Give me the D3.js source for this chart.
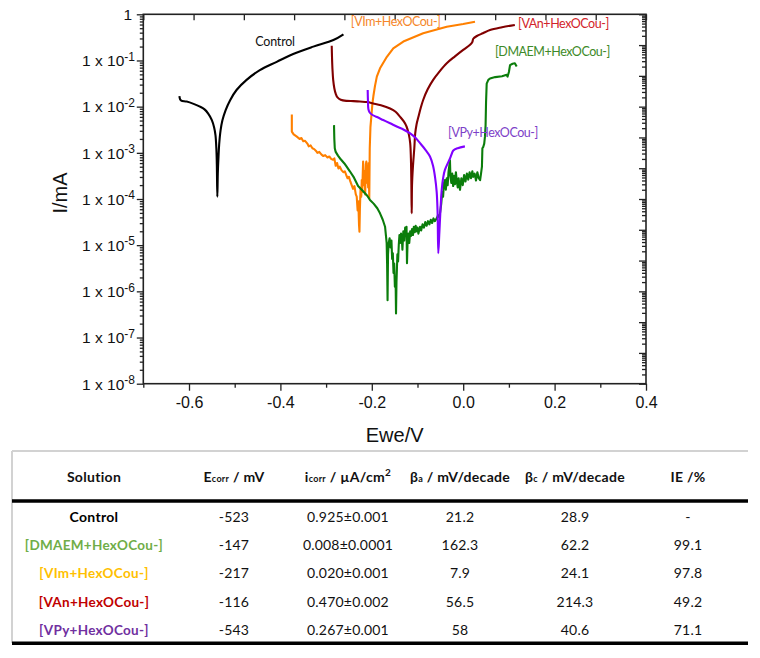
<!DOCTYPE html>
<html><head><meta charset="utf-8">
<script src="https://cdn.jsdelivr.net/npm/d3@7"></script>
<style>
html,body{margin:0;padding:0;background:#fff;}
svg{display:block;}
</style></head>
<body>
<svg id="c" width="760" height="658"></svg>
<script>
// ---------- DATA (E in V, log10 of I in mA) ----------
const controlData = [[-0.621,-1.77],[-0.6195,-1.84],[-0.617,-1.87],[-0.605,-1.89],[-0.590,-1.94],[-0.576,-2.0],[-0.566,-2.06],[-0.558,-2.15],[-0.550,-2.29],[-0.545,-2.45],[-0.542,-2.62],[-0.540,-2.94],[-0.539,-3.30],[-0.538,-3.95],[-0.537,-3.45],[-0.5355,-3.10],[-0.534,-2.82],[-0.531,-2.52],[-0.527,-2.30],[-0.520,-2.08],[-0.510,-1.86],[-0.496,-1.64],[-0.474,-1.42],[-0.445,-1.21],[-0.408,-1.03],[-0.372,-0.86],[-0.328,-0.70],[-0.284,-0.557],[-0.262,-0.433]];
const vimData = [[-0.375,-2.17],[-0.375,-2.54],[-0.371,-2.60],[-0.364,-2.65],[-0.358,-2.70],[-0.354,-2.68],[-0.350,-2.75],[-0.346,-2.74],[-0.341,-2.80],[-0.338,-2.86],[-0.334,-2.84],[-0.330,-2.90],[-0.326,-2.92],[-0.322,-2.96],[-0.319,-3.00],[-0.315,-2.98],[-0.310,-3.04],[-0.306,-3.07],[-0.302,-3.05],[-0.297,-3.10],[-0.293,-3.08],[-0.289,-3.13],[-0.285,-3.15],[-0.282,-3.12],[-0.279,-3.28],[-0.276,-3.22],[-0.273,-3.34],[-0.270,-3.30],[-0.266,-3.38],[-0.262,-3.42],[-0.259,-3.40],[-0.256,-3.48],[-0.253,-3.55],[-0.250,-3.52],[-0.247,-3.62],[-0.244,-3.70],[-0.241,-3.78],[-0.238,-3.72],[-0.235,-3.90],[-0.233,-3.95],[-0.231,-4.25],[-0.2295,-4.05],[-0.228,-4.55],[-0.227,-4.71],[-0.226,-4.20],[-0.2245,-3.75],[-0.223,-3.95],[-0.222,-3.59],[-0.221,-3.85],[-0.219,-3.19],[-0.2175,-3.70],[-0.216,-3.40],[-0.2145,-3.90],[-0.213,-3.25],[-0.212,-3.19],[-0.2105,-3.65],[-0.209,-3.30],[-0.208,-3.75],[-0.207,-3.22],[-0.2055,-3.98],[-0.2045,-2.90],[-0.203,-2.45],[-0.2005,-2.15],[-0.1985,-1.92],[-0.1965,-1.77],[-0.193,-1.55],[-0.189,-1.35],[-0.182,-1.17],[-0.167,-0.92],[-0.153,-0.74],[-0.131,-0.59],[-0.0876,-0.41],[-0.036,-0.27],[0.0,-0.21],[0.0258,-0.16]];
const vanData = [[-0.2877,-0.68],[-0.2870,-0.95],[-0.2860,-1.20],[-0.2845,-1.42],[-0.2820,-1.60],[-0.2790,-1.72],[-0.2750,-1.80],[-0.2680,-1.85],[-0.2550,-1.875],[-0.2400,-1.88],[-0.2260,-1.89],[-0.2100,-1.90],[-0.1970,-1.93],[-0.1800,-1.97],[-0.1600,-2.04],[-0.1480,-2.11],[-0.1380,-2.22],[-0.1300,-2.32],[-0.1240,-2.43],[-0.1190,-2.60],[-0.1160,-2.79],[-0.1145,-3.10],[-0.1135,-3.60],[-0.1127,-4.31],[-0.1120,-3.70],[-0.1100,-3.30],[-0.1070,-2.90],[-0.1050,-2.58],[-0.1020,-2.38],[-0.0980,-2.22],[-0.0930,-2.03],[-0.0876,-1.856],[-0.0780,-1.63],[-0.0657,-1.42],[-0.0520,-1.24],[-0.0360,-1.06],[-0.0180,-0.91],[0.0,-0.77],[0.0150,-0.66],[0.0200,-0.60],[0.0220,-0.53],[0.0300,-0.47],[0.0430,-0.41],[0.0587,-0.34],[0.0850,-0.28],[0.1130,-0.23]];
const vpyData = [[-0.209,-1.64],[-0.2085,-1.85],[-0.2075,-2.05],[-0.205,-2.12],[-0.200,-2.17],[-0.190,-2.22],[-0.175,-2.29],[-0.160,-2.36],[-0.1455,-2.43],[-0.130,-2.50],[-0.116,-2.58],[-0.105,-2.67],[-0.0945,-2.79],[-0.083,-2.93],[-0.0727,-3.08],[-0.066,-3.28],[-0.0617,-3.52],[-0.058,-3.85],[-0.056,-4.30],[-0.0545,-5.175],[-0.0525,-4.80],[-0.0508,-4.45],[-0.0490,-4.10],[-0.047,-3.80],[-0.044,-3.55],[-0.040,-3.37],[-0.0289,-3.12],[-0.0250,-3.02],[-0.0217,-2.95],[-0.012,-2.90],[0.0037,-2.86]];
const dmaemData = [[-0.2827,-2.40],[-0.2820,-2.70],[-0.2810,-2.90],[-0.2790,-2.98],[-0.2740,-3.06],[-0.2680,-3.14],[-0.2600,-3.23],[-0.2550,-3.30],[-0.2480,-3.40],[-0.2400,-3.52],[-0.2300,-3.72],[-0.2200,-3.82],[-0.2100,-3.93],[-0.2040,-4.02],[-0.1960,-4.10],[-0.1880,-4.20],[-0.1820,-4.31],[-0.1760,-4.45],[-0.1710,-4.60],[-0.1690,-4.80],[-0.1675,-4.95],[-0.1665,-5.40],[-0.1655,-6.19],[-0.1645,-5.20],[-0.1630,-4.95],[-0.1610,-4.85],[-0.1590,-5.05],[-0.1570,-4.90],[-0.1555,-5.30],[-0.1540,-5.175],[-0.1525,-5.60],[-0.1510,-5.40],[-0.1495,-5.90],[-0.1480,-5.70],[-0.1470,-6.48],[-0.1460,-5.80],[-0.1450,-5.50],[-0.1440,-5.20],[-0.1425,-5.35],[-0.1410,-5.00],[-0.1395,-4.78],[-0.1380,-4.95],[-0.1360,-4.75],[-0.1345,-4.81],[-0.1330,-5.10],[-0.1310,-4.70],[-0.1290,-4.90],[-0.1270,-4.62],[-0.1250,-4.70],[-0.1240,-4.60],[-0.1230,-5.39],[-0.1215,-4.85],[-0.1200,-4.75],[-0.1180,-4.95],[-0.1160,-4.70],[-0.1140,-4.80],[-0.1120,-4.65],[-0.1100,-4.78],[-0.1080,-4.60],[-0.1060,-4.72],[-0.1040,-4.58],[-0.1020,-4.70],[-0.1000,-4.62],[-0.0980,-4.75],[-0.0945,-4.60],[-0.0920,-4.68],[-0.0890,-4.55],[-0.0860,-4.62],[-0.0830,-4.50],[-0.0800,-4.58],[-0.0770,-4.48],[-0.0740,-4.55],[-0.0710,-4.45],[-0.0680,-4.52],[-0.0650,-4.42],[-0.0620,-4.48],[-0.0580,-4.42],[-0.0550,-4.35],[-0.0520,-4.40],[-0.0500,-4.25],[-0.0480,-4.10],[-0.0460,-3.85],[-0.0440,-3.95],[-0.0420,-3.65],[-0.0400,-3.59],[-0.0380,-3.80],[-0.0360,-3.55],[-0.0340,-3.70],[-0.0320,-3.40],[-0.0300,-3.25],[-0.0290,-3.16],[-0.0280,-3.50],[-0.0260,-3.65],[-0.0240,-3.45],[-0.0220,-3.72],[-0.0200,-3.50],[-0.0180,-3.68],[-0.0160,-3.42],[-0.0140,-3.62],[-0.0120,-3.75],[-0.0100,-3.55],[-0.0070,-3.80],[-0.0040,-3.55],[-0.0010,-3.70],[0.0020,-3.48],[0.0050,-3.62],[0.0080,-3.45],[0.0110,-3.58],[0.0140,-3.42],[0.0170,-3.55],[0.0200,-3.40],[0.0220,-3.52],[0.0250,-3.45],[0.0280,-3.60],[0.0310,-3.42],[0.0340,-3.55],[0.0370,-3.59],[0.0390,-3.45],[0.0410,-3.30],[0.0420,-2.90],[0.0440,-2.87],[0.0460,-2.80],[0.0476,-2.65],[0.0490,-2.40],[0.0500,-1.90],[0.0514,-1.50],[0.0550,-1.42],[0.0587,-1.39],[0.0700,-1.36],[0.0850,-1.34],[0.0950,-1.31],[0.0970,-1.35],[0.1000,-1.25],[0.1025,-1.10],[0.1080,-1.07],[0.1130,-1.06],[0.1170,-1.13]];

const seriesNames = ["Control","[VIm+HexOCou-]","[VAn+HexOCou-]","[DMAEM+HexOCou-]","[VPy+HexOCou-]"];
// label anchor points (E, log10 I)
const labelE = [-0.455, -0.246, 0.120, 0.0696, -0.0333];
const labelLogI = [-0.686, -0.253, -0.297, -0.903, -2.657];

const xMajor = [-0.6,-0.4,-0.2,0.0,0.2,0.4];
const xMinor = [-0.7,-0.5,-0.3,-0.1,0.1,0.3];
const yExponents = [-8,-7,-6,-5,-4,-3,-2,-1,0];

// table
const tableHeaders = ["Solution","Ecorr","icorr","betaA","betaC","IE"];
const tSolution = ["Control","[DMAEM+HexOCou-]","[VIm+HexOCou-]","[VAn+HexOCou-]","[VPy+HexOCou-]"];
const tEcorr = ["-523","-147","-217","-116","-543"];
const tIcorr = ["0.925±0.001","0.008±0.0001","0.020±0.001","0.470±0.002","0.267±0.001"];
const tBetaA = ["21.2","162.3","7.9","56.5","58"];
const tBetaC = ["28.9","62.2","24.1","214.3","40.6"];
const tIE = ["-","99.1","97.8","49.2","71.1"];

// ---------- STYLES ----------
const lineColors = ["#000000","#ff8000","#800000","#0b7d0b","#8000ff"];
const labelColors = ["#111111","#f5862a","#d2232a","#3d8a28","#7d3fc8"];
const tableColors = ["#000000","#70ad47","#ffc000","#c00000","#7030a0"];
const smooth = [true, false, true, false, true];

const svg = d3.select("#c");
const L = 143.3, R = 646, T = 14.3, B = 383.7;
const x = d3.scaleLinear().domain([-0.7, 0.4]).range([L, R]);
const y = d3.scaleLog().domain([1e-8, 1]).range([B, T]);
const yR = d3.scaleLog().domain([1e-12, 1]).range([B, T]);
const xTop = d3.scaleLinear().domain([0, 10]).range([L, R]);

const axisFont = "'Liberation Sans', Arial, sans-serif";
const calFont = "Lato, 'Open Sans', sans-serif";

function minorLogValues(lo, hi) {
  const out = [];
  for (let k = lo; k < hi; k++) for (let m = 2; m <= 9; m++) out.push(m * Math.pow(10, k));
  return out;
}

function styleAxis(g) {
  g.select(".domain").remove();
  g.selectAll("line").attr("stroke", "#222").attr("stroke-width", 1.3);
}

// left axis minor + major
svg.append("g").attr("transform", `translate(${L},0)`)
  .call(d3.axisLeft(y).tickValues(minorLogValues(-8, 0)).tickSize(3.5).tickFormat(""))
  .call(styleAxis);
svg.append("g").attr("transform", `translate(${L},0)`)
  .call(d3.axisLeft(y).tickValues(yExponents.map(e => Math.pow(10, e))).tickSize(6.5).tickFormat(""))
  .call(styleAxis);

// left labels
const ylab = svg.append("g").attr("font-family", axisFont).attr("fill", "#111");
yExponents.forEach(e => {
  const t = ylab.append("text").attr("x", 135).attr("y", y(Math.pow(10, e)) + 5.8)
    .attr("text-anchor", "end").attr("font-size", 15.5);
  if (e === 0) { t.attr("x", 132).text("1"); }
  else {
    t.append("tspan").text("1 x 10");
    t.append("tspan").attr("font-size", 12).attr("dy", -5.5).text(String(e));
  }
});

// right axis (inward)
svg.append("g").attr("transform", `translate(${R},0)`)
  .call(d3.axisLeft(yR).tickValues(minorLogValues(-12, 0)).tickSize(4).tickFormat(""))
  .call(styleAxis);
svg.append("g").attr("transform", `translate(${R},0)`)
  .call(d3.axisLeft(yR).tickValues(d3.range(-12, 1).map(e => Math.pow(10, e))).tickSize(7).tickFormat(""))
  .call(styleAxis);

// top axis (inward)
svg.append("g").attr("transform", `translate(0,${T})`)
  .call(d3.axisBottom(xTop).tickValues(d3.range(0, 11)).tickSize(6).tickFormat(""))
  .call(styleAxis);

// bottom axis
svg.append("g").attr("transform", `translate(0,${B})`)
  .call(d3.axisBottom(x).tickValues(xMinor).tickSize(4).tickFormat(""))
  .call(styleAxis);
const fmt = d3.format(".1f");
const bx = svg.append("g").attr("transform", `translate(0,${B})`)
  .call(d3.axisBottom(x).tickValues(xMajor).tickSize(7).tickFormat(d => fmt(d).replace("\u2212", "-")))
  .call(styleAxis);
bx.selectAll("text").attr("font-family", axisFont).attr("font-size", 16).attr("fill", "#111")
  .attr("y", 0).attr("dy", 0).attr("transform", "translate(0,24.5)");

// frame
svg.append("rect").attr("x", L).attr("y", T).attr("width", R - L).attr("height", B - T)
  .attr("fill", "none").attr("stroke", "#222").attr("stroke-width", 1.6);

// axis titles
svg.append("text").attr("x", (L + R) / 2).attr("y", 442).attr("text-anchor", "middle")
  .attr("font-family", axisFont).attr("font-size", 20).attr("fill", "#111").text("Ewe/V");
svg.append("text").attr("transform", "translate(67,193) rotate(-90)").attr("text-anchor", "middle")
  .attr("font-family", axisFont).attr("font-size", 20).attr("fill", "#111").text("I/mA");

// curves
const lineSharp = d3.line().x(d => x(d[0])).y(d => y(Math.pow(10, d[1])));
const lineSmooth = d3.line().x(d => x(d[0])).y(d => y(Math.pow(10, d[1]))).curve(d3.curveCatmullRom.alpha(0.5));
const allSeries = [controlData, vimData, vanData, dmaemData, vpyData];
const drawOrder = [0, 1, 3, 2, 4];
const plot = svg.append("g");
drawOrder.forEach(i => {
  plot.append("path").datum(allSeries[i]).attr("d", smooth[i] ? lineSmooth : lineSharp)
    .attr("fill", "none").attr("stroke", lineColors[i]).attr("stroke-width", 2.1)
    .attr("stroke-linejoin", "round");
});

// labels in plot
seriesNames.forEach((n, i) => {
  svg.append("text").attr("x", x(labelE[i])).attr("y", y(Math.pow(10, labelLogI[i])))
    .attr("font-family", calFont).attr("font-size", i === 0 ? 12.5 : 12.5)
    .attr("letter-spacing", i === 0 ? -0.2 : -0.45)
    .attr("fill", labelColors[i]).text(n);
});

// ---------- TABLE ----------
const tbl = svg.append("g");
const colX = d3.scaleOrdinal().domain(tableHeaders).range([94, 234, 348, 460, 575, 688]);
const rowY = d3.scalePoint().domain(d3.range(tSolution.length)).range([516.7, 630]);
const tL = 12, tR = 748;
tbl.append("line").attr("x1", tL).attr("x2", tR).attr("y1", 451).attr("y2", 451)
  .attr("stroke", "#d2d2d2").attr("stroke-width", 2);
tbl.append("line").attr("x1", tL).attr("x2", tL).attr("y1", 451).attr("y2", 643)
  .attr("stroke", "#d2d2d2").attr("stroke-width", 2);
tbl.append("line").attr("x1", tL).attr("x2", tR).attr("y1", 501).attr("y2", 501)
  .attr("stroke", "#000").attr("stroke-width", 3.5);
tbl.append("line").attr("x1", tL).attr("x2", tR).attr("y1", 643.3).attr("y2", 643.3)
  .attr("stroke", "#000").attr("stroke-width", 3.5);

const hY = 482;
function hdr(key) {
  return tbl.append("text").attr("x", colX(key)).attr("y", hY).attr("text-anchor", "middle")
    .attr("font-family", calFont).attr("font-size", 14).attr("font-weight", "bold").attr("fill", "#111")
    .attr("letter-spacing", 0.3);
}
hdr("Solution").text("Solution");
let h = hdr("Ecorr"); h.append("tspan").text("E"); h.append("tspan").attr("font-size", 9).text("corr"); h.append("tspan").text(" / mV");
h = hdr("icorr"); h.append("tspan").text("i"); h.append("tspan").attr("font-size", 9).text("corr"); h.append("tspan").text(" / µA/cm");
h.append("tspan").attr("font-size", 10).attr("dy", -6).text("2");
h = hdr("betaA"); h.append("tspan").text("β"); h.append("tspan").attr("font-size", 9).text("a"); h.append("tspan").text(" / mV/decade");
h = hdr("betaC"); h.append("tspan").text("β"); h.append("tspan").attr("font-size", 9).text("c"); h.append("tspan").text(" / mV/decade");
hdr("IE").text("IE /%");

const cols = [tEcorr, tIcorr, tBetaA, tBetaC, tIE];
tSolution.forEach((s, r) => {
  tbl.append("text").attr("x", colX("Solution")).attr("y", rowY(r) + 5).attr("text-anchor", "middle")
    .attr("font-family", calFont).attr("font-size", r === 0 ? 14 : 13.5).attr("font-weight", "bold")
    .attr("letter-spacing", 0.3)
    .attr("fill", tableColors[r]).text(s);
  cols.forEach((c, ci) => {
    tbl.append("text").attr("x", colX(tableHeaders[ci + 1])).attr("y", rowY(r) + 5).attr("text-anchor", "middle")
      .attr("font-family", calFont).attr("font-size", 14).attr("fill", "#111").attr("letter-spacing", 0.2).text(c[r]);
  });
});
</script>
</body></html>
